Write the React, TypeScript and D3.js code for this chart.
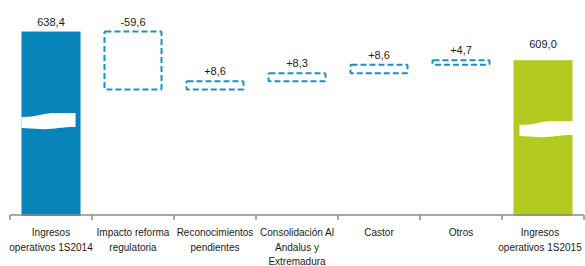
import React, { useEffect, useRef } from "react";
import * as d3 from "d3";

// categories of the bridge (one entry per band, lines split for the axis labels)
const categories = ["ing14", "reforma", "reconoc", "consol", "castor", "otros", "ing15"];
const categoryLines = [
  ["Ingresos", "operativos 1S2014"],
  ["Impacto reforma", "regulatoria"],
  ["Reconocimientos", "pendientes"],
  ["Consolidación Al", "Andalus y", "Extremadura"],
  ["Castor"],
  ["Otros"],
  ["Ingresos", "operativos 1S2015"],
];
// values in M€ : totals and variations
const values = [638.4, -59.6, 8.6, 8.3, 8.6, 4.7, 609.0];
const valueLabels = ["638,4", "-59,6", "+8,6", "+8,3", "+8,6", "+4,7", "609,0"];
const kinds = ["total", "delta", "delta", "delta", "delta", "delta", "total"];
// where the axis break is drawn on the total bars
const breakValues = [554.8, null, null, null, null, null, 546.5];
const colors = ["#0884ba", null, null, null, null, null, "#b3cb1f"];

const width = 585;
const height = 266;

function App() {
  const ref = useRef<SVGSVGElement>(null);

  useEffect(() => {
    drawChart();
  }, []);

  const drawChart = () => {
    const svg = d3.select(ref.current);
    svg.selectAll("*").remove();

    const font = "'Liberation Sans', Arial, sans-serif";
    const axisY = 215;

    const x = d3.scaleBand()
      .domain(categories)
      .range([10, 584])
      .paddingInner(0.28)
      .paddingOuter(0.14);

    // broken scale : bottom of the axis is not zero
    const y = d3.scaleLinear()
      .domain([450, 640])
      .range([axisY, 30]);

    // build start / end of every bar
    let running = 0;
    const bars = values.map((v, i) => {
      let y0, y1;
      if (kinds[i] == "total") {
        y0 = 450;
        y1 = v;
        running = v;
      } else {
        y0 = running;
        y1 = running + v;
        running = y1;
      }
      return { key: categories[i], y0, y1, kind: kinds[i], label: valueLabels[i], brk: breakValues[i], color: colors[i] };
    });

    // total bars
    svg.selectAll("rect.total")
      .data(bars.filter(d => d.kind == "total"))
      .enter()
      .append("rect")
      .attr("class", "total")
      .attr("x", d => x(d.key)!)
      .attr("width", x.bandwidth())
      .attr("y", d => y(d.y1))
      .attr("height", d => axisY + 1 - y(d.y1))
      .attr("fill", d => d.color!);

    // the white wave that breaks the totals
    const bw = x.bandwidth();
    svg.selectAll("path.break")
      .data(bars.filter(d => d.brk != null))
      .enter()
      .append("path")
      .attr("class", "break")
      .attr("fill", "#fff")
      .attr("d", (d, i) => {
        const x0 = x(d.key)! + (i == 0 ? 0 : 6);
        const x1 = x(d.key)! + (i == 0 ? bw - 5 : bw + 1);
        const yb = y(d.brk!);
        const w = x1 - x0;
        return `M${x0},${yb + 4}` +
          ` C${x0 + w * 0.3},${yb + 4} ${x0 + w * 0.4},${yb} ${x0 + w * 0.6},${yb}` +
          ` L${x1},${yb}` +
          ` L${x1},${yb + 14}` +
          ` C${x0 + w * 0.7},${yb + 14} ${x0 + w * 0.55},${yb + 17} ${x0 + w * 0.35},${yb + 16}` +
          ` L${x0},${yb + 15} Z`;
      });

    // variation bars : dashed outline
    svg.selectAll("rect.delta")
      .data(bars.filter(d => d.kind == "delta"))
      .enter()
      .append("rect")
      .attr("class", "delta")
      .attr("x", d => x(d.key)! + 1)
      .attr("width", bw - 2)
      .attr("y", d => y(Math.max(d.y0, d.y1)))
      .attr("height", d => Math.abs(y(d.y0) - y(d.y1)))
      .attr("fill", "none")
      .attr("stroke", "#1e8fc6")
      .attr("stroke-width", 2)
      .attr("stroke-dasharray", "6,3")
      .attr("rx", 1);

    // value labels
    svg.selectAll("text.value")
      .data(bars)
      .enter()
      .append("text")
      .attr("class", "value")
      .attr("x", d => x(d.key)! + bw / 2)
      .attr("y", d => y(Math.max(d.y0, d.y1)) - (d.kind == "total" && d.key == "ing15" ? 12 : 6))
      .attr("text-anchor", "middle")
      .style("font-family", font)
      .style("font-size", "11px")
      .attr("fill", "#1a1a1a")
      .text(d => d.label);

    // x axis line + ticks at band limits
    const step = x.step();
    const ax = svg.append("g");
    ax.append("line")
      .attr("x1", 10).attr("x2", 584)
      .attr("y1", axisY).attr("y2", axisY)
      .attr("stroke", "#8c8c8c")
      .attr("stroke-width", 1.5);
    ax.selectAll("line.tick")
      .data(d3.range(categories.length + 1))
      .enter()
      .append("line")
      .attr("class", "tick")
      .attr("x1", i => 10 + i * step)
      .attr("x2", i => 10 + i * step)
      .attr("y1", axisY)
      .attr("y2", axisY + 5)
      .attr("stroke", "#8c8c8c")
      .attr("stroke-width", 1.5);

    // category labels
    const lab = svg.selectAll("text.cat")
      .data(categories)
      .enter()
      .append("text")
      .attr("class", "cat")
      .attr("text-anchor", "middle")
      .style("font-family", font)
      .style("font-size", "10px")
      .attr("fill", "#1a1a1a");
    lab.each(function (d, i) {
      const t = d3.select(this);
      categoryLines[i].forEach((line, j) => {
        t.append("tspan")
          .attr("x", x(d)! + bw / 2 - (i == categories.length - 1 ? 3 : 0))
          .attr("y", 236 + j * 14.5)
          .text(line);
      });
    });
  };

  return (
    <svg
      ref={ref}
      width={width}
      height={height}
      style={{ position: "absolute", left: 0, top: 0, background: "#fff" }}
    />
  );
}

export default App;
